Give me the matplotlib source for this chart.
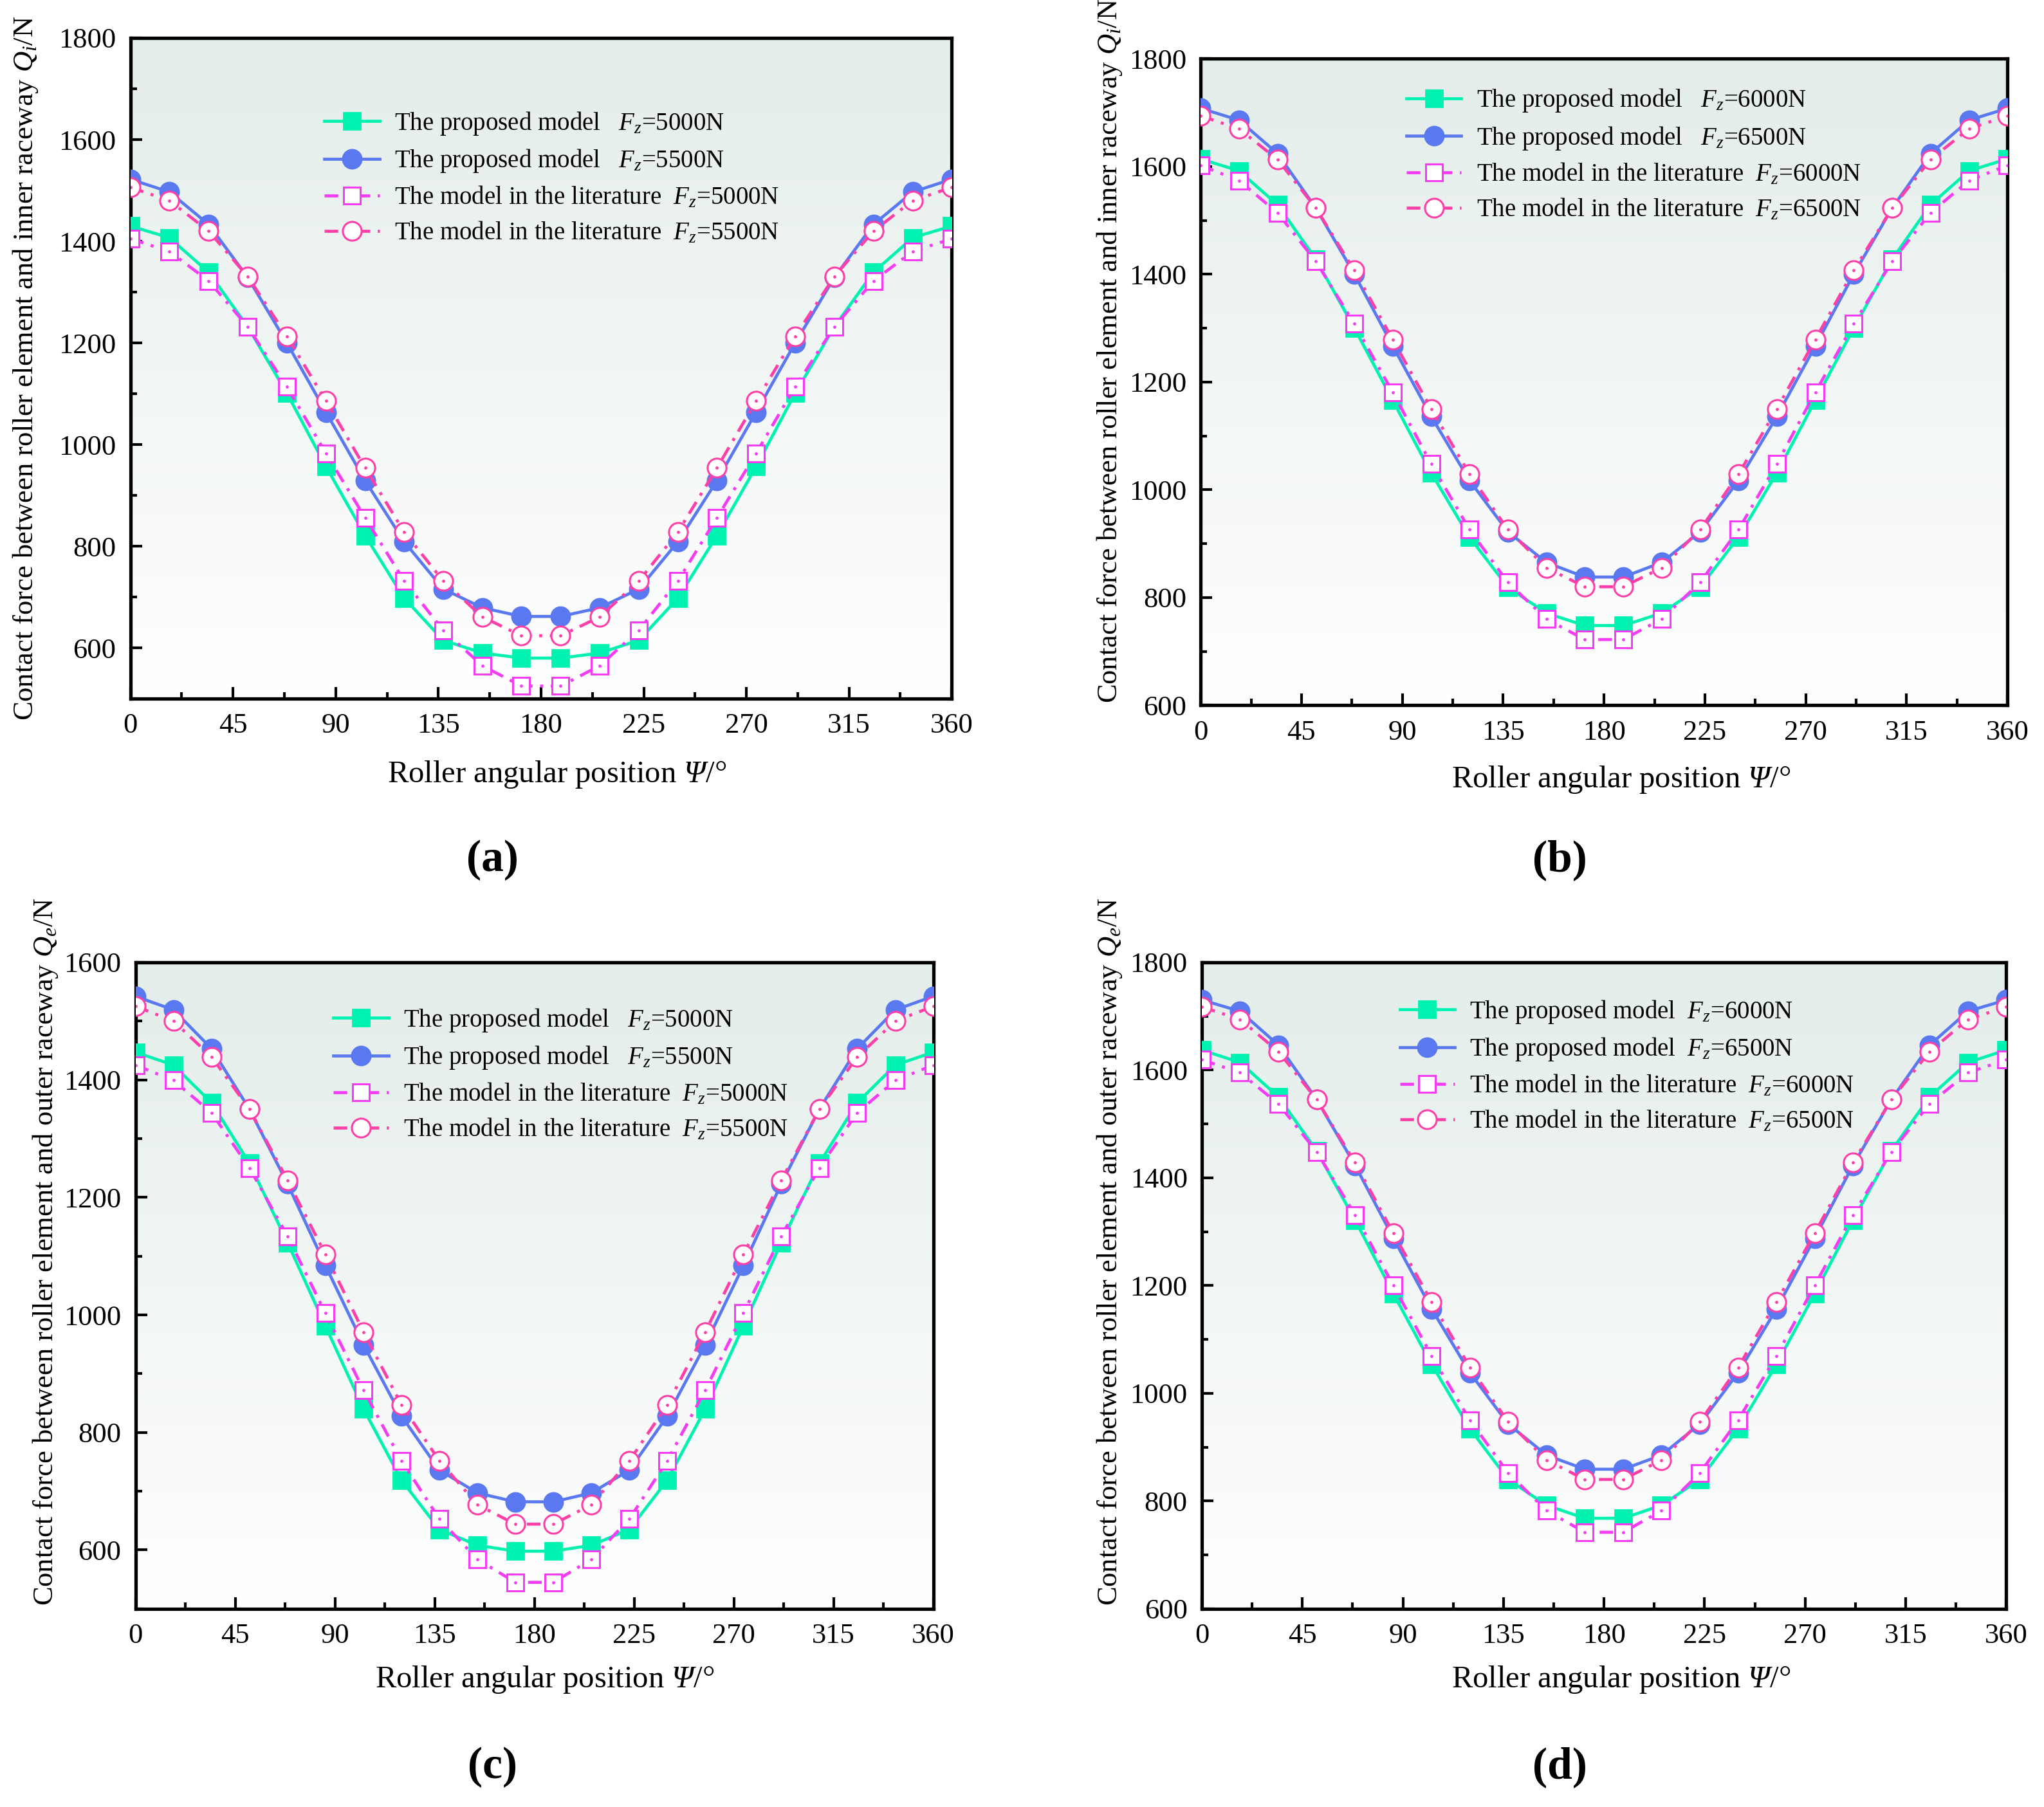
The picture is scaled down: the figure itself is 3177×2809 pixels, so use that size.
import matplotlib
matplotlib.use("Agg")
import matplotlib.pyplot as plt
import numpy as np
from matplotlib.colors import LinearSegmentedColormap
from matplotlib.ticker import MultipleLocator

plt.rcParams['font.family'] = ['Liberation Serif', 'DejaVu Serif']
plt.rcParams['mathtext.fontset'] = 'custom'
plt.rcParams['mathtext.rm'] = 'Liberation Serif'
plt.rcParams['mathtext.it'] = 'Liberation Serif:italic'
plt.rcParams['mathtext.cal'] = 'Liberation Serif:italic'  # used for the italic Psi

# === Data ===
psi = [0, 17.1, 34.3, 51.4, 68.6, 85.7, 102.9, 120.0, 137.1, 154.3, 171.4,
       188.6, 205.7, 222.9, 240.0, 257.1, 274.3, 291.4, 308.6, 325.7, 342.9, 360]

# (a) inner raceway, Fz = 5000 / 5500 N
qa_p5000 = [1430, 1407, 1339, 1232, 1101, 957, 821, 698, 615, 590, 580,
            580, 590, 615, 698, 821, 957, 1101, 1232, 1339, 1407, 1430]
qa_p5500 = [1522, 1497, 1433, 1329, 1200, 1064, 929, 809, 716, 679, 662,
            662, 679, 716, 809, 929, 1064, 1200, 1329, 1433, 1497, 1522]
qa_l5000 = [1405, 1380, 1322, 1232, 1114, 983, 856, 732, 635, 565, 525,
            525, 565, 635, 732, 856, 983, 1114, 1232, 1322, 1380, 1405]
qa_l5500 = [1506, 1480, 1420, 1331, 1213, 1086, 954, 828, 732, 661, 624,
            624, 661, 732, 828, 954, 1086, 1213, 1331, 1420, 1480, 1506]

# (b) inner raceway, Fz = 6000 / 6500 N
qb_p6000 = [1614, 1592, 1529, 1428, 1300, 1166, 1031, 912, 819, 771, 748,
            748, 771, 819, 912, 1031, 1166, 1300, 1428, 1529, 1592, 1614]
qb_p6500 = [1708, 1686, 1624, 1523, 1400, 1267, 1136, 1017, 922, 865, 838,
            838, 865, 922, 1017, 1136, 1267, 1400, 1523, 1624, 1686, 1708]
qb_l6000 = [1602, 1574, 1514, 1424, 1308, 1181, 1048, 926, 828, 760, 722,
            722, 760, 828, 926, 1048, 1181, 1308, 1424, 1514, 1574, 1602]
qb_l6500 = [1694, 1670, 1613, 1523, 1407, 1279, 1150, 1029, 926, 855, 820,
            820, 855, 926, 1029, 1150, 1279, 1407, 1523, 1613, 1670, 1694]

# (c) outer raceway, Fz = 5000 / 5500 N
qc_p5000 = [1447, 1425, 1361, 1258, 1123, 981, 840, 719, 635, 608, 598,
            598, 608, 635, 719, 840, 981, 1123, 1258, 1361, 1425, 1447]
qc_p5500 = [1542, 1519, 1453, 1350, 1223, 1084, 949, 828, 736, 697, 682,
            682, 697, 736, 828, 949, 1084, 1223, 1350, 1453, 1519, 1542]
qc_l5000 = [1425, 1399, 1344, 1250, 1134, 1003, 872, 752, 653, 584, 545,
            545, 584, 653, 752, 872, 1003, 1134, 1250, 1344, 1399, 1425]
qc_l5500 = [1525, 1500, 1439, 1350, 1229, 1103, 971, 847, 752, 677, 644,
            644, 677, 752, 847, 971, 1103, 1229, 1350, 1439, 1500, 1525]

# (d) outer raceway, Fz = 6000 / 6500 N
qd_p6000 = [1637, 1614, 1550, 1450, 1321, 1185, 1053, 934, 840, 792, 768,
            768, 792, 840, 934, 1053, 1185, 1321, 1450, 1550, 1614, 1637]
qd_p6500 = [1730, 1709, 1646, 1545, 1423, 1288, 1156, 1038, 943, 885, 859,
            859, 885, 943, 1038, 1156, 1288, 1423, 1545, 1646, 1709, 1730]
qd_l6000 = [1619, 1595, 1537, 1448, 1331, 1200, 1069, 950, 852, 782, 742,
            742, 782, 852, 950, 1069, 1200, 1331, 1448, 1537, 1595, 1619]
qd_l6500 = [1717, 1694, 1634, 1545, 1428, 1297, 1169, 1048, 947, 876, 840,
            840, 876, 947, 1048, 1169, 1297, 1428, 1545, 1634, 1694, 1717]

# === Style ===
C_GREEN = '#00F2B0'
C_BLUE = '#5A78F0'
C_MAG = '#F43CF4'
C_PINK = '#FF3FA8'
FS_TICK = 16
FS_XLAB = 17.5
FS_YLAB = 16
FS_LEG = 14
bg_cmap = LinearSegmentedColormap.from_list('bg', ['#FFFFFF', '#E3EDEA'])

panels = [
    dict(rect=[0.0638, 0.6133, 0.4018, 0.3657], ylim=(500, 1800),
         series=[qa_p5000, qa_p5500, qa_l5000, qa_l5500],
         labels=['The proposed model   $F_z$=5000N', 'The proposed model   $F_z$=5500N',
                 'The model in the literature  $F_z$=5000N', 'The model in the literature  $F_z$=5500N'],
         ylabel='Contact force between roller element and inner raceway $Q_i$/N',
         ylab_xy=(-0.110, 0.5), xlab_xy=(0.519, -0.091),
         leg_xy=(0.209, 0.925), tag='(a)', tag_xy=(0.241, 0.524)),
    dict(rect=[0.5874, 0.6097, 0.3947, 0.3578], ylim=(600, 1800),
         series=[qb_p6000, qb_p6500, qb_l6000, qb_l6500],
         labels=['The proposed model   $F_z$=6000N', 'The proposed model   $F_z$=6500N',
                 'The model in the literature  $F_z$=6000N', 'The model in the literature  $F_z$=6500N'],
         ylabel='Contact force between roller element and inner raceway $Q_i$/N',
         ylab_xy=(-0.095, 0.548), xlab_xy=(0.521, -0.091),
         leg_xy=(0.227, 0.991), tag='(b)', tag_xy=(0.763, 0.524)),
    dict(rect=[0.0663, 0.1097, 0.3903, 0.3578], ylim=(500, 1600),
         series=[qc_p5000, qc_p5500, qc_l5000, qc_l5500],
         labels=['The proposed model   $F_z$=5000N', 'The proposed model   $F_z$=5500N',
                 'The model in the literature  $F_z$=5000N', 'The model in the literature  $F_z$=5500N'],
         ylabel='Contact force between roller element and outer raceway $Q_e$/N',
         ylab_xy=(-0.095, 0.552), xlab_xy=(0.513, -0.086),
         leg_xy=(0.22, 0.966), tag='(c)', tag_xy=(0.241, 0.022)),
    dict(rect=[0.588, 0.1097, 0.3935, 0.3578], ylim=(600, 1800),
         series=[qd_p6000, qd_p6500, qd_l6000, qd_l6500],
         labels=['The proposed model  $F_z$=6000N', 'The proposed model  $F_z$=6500N',
                 'The model in the literature  $F_z$=6000N', 'The model in the literature  $F_z$=6500N'],
         ylabel='Contact force between roller element and outer raceway $Q_e$/N',
         ylab_xy=(-0.097, 0.552), xlab_xy=(0.521, -0.086),
         leg_xy=(0.218, 0.979), tag='(d)', tag_xy=(0.763, 0.022)),
]

fig = plt.figure(figsize=(15.885, 14.045), dpi=200)

for p in panels:
    ax = fig.add_axes(p['rect'])
    grad = np.linspace(0, 1, 256).reshape(-1, 1)
    ax.imshow(grad, cmap=bg_cmap, extent=[0, 1, 0, 1], transform=ax.transAxes,
              origin='lower', aspect='auto', zorder=0)

    s_p1, s_p2, s_l1, s_l2 = p['series']
    ax.plot(psi, s_p1, '-', color=C_GREEN, lw=1.7, marker='s', ms=9.5,
            mfc=C_GREEN, mec=C_GREEN, label=p['labels'][0], zorder=3)
    ax.plot(psi, s_p2, '-', color=C_BLUE, lw=1.7, marker='o', ms=10.5,
            mfc=C_BLUE, mec=C_BLUE, label=p['labels'][1], zorder=3)
    ax.plot(psi, s_l1, color=C_MAG, lw=1.7, dashes=(4.5, 2.5, 1, 2.5), marker='s', ms=9.5,
            mfc='white', mec=C_MAG, mew=1.1, label=p['labels'][2], zorder=4)
    ax.plot(psi, s_l2, color=C_PINK, lw=1.7, dashes=(4.5, 2.5, 1, 2.5), marker='o', ms=10.5,
            mfc='white', mec=C_PINK, mew=1.1, label=p['labels'][3], zorder=4)
    # little centre dots of the hollow markers
    ax.plot(psi, s_l1, ls='none', marker='.', ms=1.5, color=C_MAG, zorder=5)
    ax.plot(psi, s_l2, ls='none', marker='.', ms=1.5, color=C_PINK, zorder=5)

    ax.set_xlim(0, 360)
    ax.set_ylim(*p['ylim'])
    ax.xaxis.set_major_locator(MultipleLocator(45))
    ax.xaxis.set_minor_locator(MultipleLocator(22.5))
    ax.yaxis.set_major_locator(MultipleLocator(200))
    ax.yaxis.set_minor_locator(MultipleLocator(100))
    ax.tick_params(which='both', direction='in', labelsize=FS_TICK, top=False, right=False)
    ax.tick_params(which='major', length=6.5, width=1.5, pad=8)
    ax.tick_params(which='minor', length=3.5, width=1.5)
    for sp in ax.spines.values():
        sp.set_linewidth(1.9)

    ax.set_xlabel('Roller angular position $\\mathcal{Ψ}$/°', fontsize=FS_XLAB)
    ax.xaxis.set_label_coords(*p['xlab_xy'])
    ax.set_ylabel(p['ylabel'], fontsize=FS_YLAB)
    ax.yaxis.set_label_coords(*p['ylab_xy'])

    ax.legend(loc='upper left', bbox_to_anchor=p['leg_xy'], frameon=False,
              fontsize=FS_LEG, handlelength=2.2, labelspacing=0.42, handletextpad=0.6)

    fig.text(p['tag_xy'][0], p['tag_xy'][1], p['tag'], fontsize=25, fontweight='bold',
             ha='center', va='center')

fig.savefig('out.png', dpi=200)
